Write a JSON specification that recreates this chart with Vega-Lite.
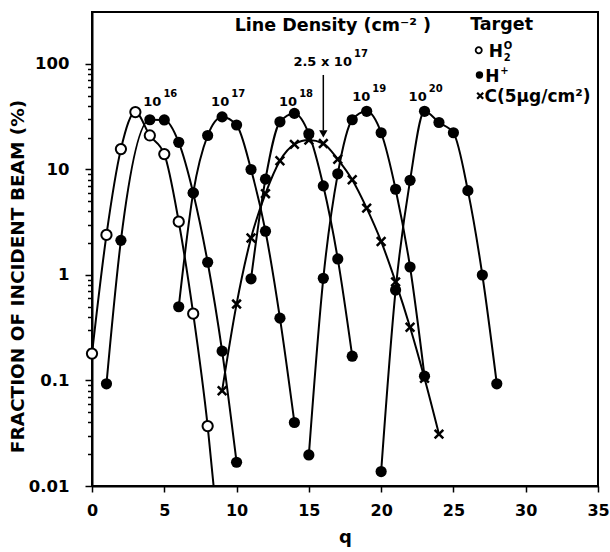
{
  "$schema": "https://vega.github.io/schema/vega-lite/v6.json",
  "width": 506,
  "height": 474,
  "autosize": {"type": "none"},
  "padding": {"left": 92, "top": 12, "right": 12, "bottom": 66},
  "background": "white",
  "config": {
    "view": {"stroke": "black", "strokeWidth": 2},
    "font": "DejaVu Sans",
    "axis": {
      "domainColor": "black", "domainWidth": 2, "tickColor": "black", "tickWidth": 1.5,
      "labelColor": "black", "titleColor": "black", "labelFont": "DejaVu Sans", "titleFont": "DejaVu Sans",
      "labelFontWeight": "bold", "titleFontWeight": "bold", "labelFontSize": 16.5, "titleFontSize": 17.5, "grid": false
    },
    "text": {"font": "DejaVu Sans", "fontWeight": "bold", "color": "black"}
  },
  "datasets": {
    "curves": [
      {"series": "H2", "target": "H2", "q": 0, "value": 0.18},
      {"series": "H2", "target": "H2", "q": 1, "value": 2.4},
      {"series": "H2", "target": "H2", "q": 2, "value": 15.6},
      {"series": "H2", "target": "H2", "q": 3, "value": 35},
      {"series": "H2", "target": "H2", "q": 4, "value": 21},
      {"series": "H2", "target": "H2", "q": 5, "value": 14},
      {"series": "H2", "target": "H2", "q": 6, "value": 3.2},
      {"series": "H2", "target": "H2", "q": 7, "value": 0.43},
      {"series": "H2", "target": "H2", "q": 8, "value": 0.037},
      {"series": "H2", "target": "H2", "q": 8.6, "value": 0.0055, "measured": false},
      {"series": "1e16", "target": "H+", "q": 1, "value": 0.093},
      {"series": "1e16", "target": "H+", "q": 2, "value": 2.13},
      {"series": "1e16", "target": "H+", "q": 4, "value": 29.6},
      {"series": "1e16", "target": "H+", "q": 5, "value": 29.5},
      {"series": "1e16", "target": "H+", "q": 6, "value": 18.1},
      {"series": "1e16", "target": "H+", "q": 7, "value": 6.0},
      {"series": "1e16", "target": "H+", "q": 8, "value": 1.32},
      {"series": "1e16", "target": "H+", "q": 9, "value": 0.19},
      {"series": "1e16", "target": "H+", "q": 10, "value": 0.0168},
      {"series": "1e17", "target": "H+", "q": 6, "value": 0.5},
      {"series": "1e17", "target": "H+", "q": 7, "value": 6.0},
      {"series": "1e17", "target": "H+", "q": 8, "value": 21},
      {"series": "1e17", "target": "H+", "q": 9, "value": 31.5},
      {"series": "1e17", "target": "H+", "q": 10, "value": 26.4},
      {"series": "1e17", "target": "H+", "q": 11, "value": 10},
      {"series": "1e17", "target": "H+", "q": 12, "value": 2.6},
      {"series": "1e17", "target": "H+", "q": 13, "value": 0.39},
      {"series": "1e17", "target": "H+", "q": 14, "value": 0.04},
      {"series": "1e18", "target": "H+", "q": 11, "value": 0.92},
      {"series": "1e18", "target": "H+", "q": 12, "value": 8.1},
      {"series": "1e18", "target": "H+", "q": 13, "value": 28.3},
      {"series": "1e18", "target": "H+", "q": 14, "value": 34},
      {"series": "1e18", "target": "H+", "q": 15, "value": 21.8},
      {"series": "1e18", "target": "H+", "q": 16, "value": 7.0},
      {"series": "1e18", "target": "H+", "q": 17, "value": 1.42},
      {"series": "1e18", "target": "H+", "q": 18, "value": 0.17},
      {"series": "1e19", "target": "H+", "q": 15, "value": 0.0197},
      {"series": "1e19", "target": "H+", "q": 16, "value": 0.93},
      {"series": "1e19", "target": "H+", "q": 17, "value": 9.1},
      {"series": "1e19", "target": "H+", "q": 18, "value": 29.6},
      {"series": "1e19", "target": "H+", "q": 19, "value": 35.6},
      {"series": "1e19", "target": "H+", "q": 20, "value": 22.3},
      {"series": "1e19", "target": "H+", "q": 21, "value": 6.5},
      {"series": "1e19", "target": "H+", "q": 22, "value": 1.19},
      {"series": "1e19", "target": "H+", "q": 23, "value": 0.11},
      {"series": "1e20", "target": "H+", "q": 20, "value": 0.0137},
      {"series": "1e20", "target": "H+", "q": 21, "value": 0.72},
      {"series": "1e20", "target": "H+", "q": 22, "value": 7.9},
      {"series": "1e20", "target": "H+", "q": 23, "value": 35.6},
      {"series": "1e20", "target": "H+", "q": 24, "value": 27.9},
      {"series": "1e20", "target": "H+", "q": 25, "value": 22.3},
      {"series": "1e20", "target": "H+", "q": 26, "value": 6.3},
      {"series": "1e20", "target": "H+", "q": 27, "value": 1.0},
      {"series": "1e20", "target": "H+", "q": 28, "value": 0.093},
      {"series": "C", "target": "C", "q": 9, "value": 0.08},
      {"series": "C", "target": "C", "q": 10, "value": 0.53},
      {"series": "C", "target": "C", "q": 11, "value": 2.24},
      {"series": "C", "target": "C", "q": 12, "value": 5.9},
      {"series": "C", "target": "C", "q": 13, "value": 12.1},
      {"series": "C", "target": "C", "q": 14, "value": 17.3},
      {"series": "C", "target": "C", "q": 15, "value": 19},
      {"series": "C", "target": "C", "q": 16, "value": 17.6},
      {"series": "C", "target": "C", "q": 17, "value": 12.5},
      {"series": "C", "target": "C", "q": 18, "value": 8.0},
      {"series": "C", "target": "C", "q": 19, "value": 4.3},
      {"series": "C", "target": "C", "q": 20, "value": 2.08},
      {"series": "C", "target": "C", "q": 21, "value": 0.86},
      {"series": "C", "target": "C", "q": 22, "value": 0.32},
      {"series": "C", "target": "C", "q": 23, "value": 0.105},
      {"series": "C", "target": "C", "q": 24, "value": 0.031}
    ],
    "labels": [
      {"q": 4.8, "value": 44, "text": "10", "sup": "16"},
      {"q": 9.49, "value": 44, "text": "10", "sup": "17"},
      {"q": 14.19, "value": 44, "text": "10", "sup": "18"},
      {"q": 19.25, "value": 49, "text": "10", "sup": "19"},
      {"q": 23.15, "value": 49, "text": "10", "sup": "20"},
      {"q": 17.98, "value": 105, "text": "2.5 x 10", "sup": "17"}
    ],
    "notes": [
      {"q": 16.66, "value": 230, "text": "Line Density (cm⁻² )"},
      {"q": 28.33, "value": 234, "text": "Target"}
    ],
    "arrow": [
      {"q": 16, "value": 78.7, "value2": 23.5}
    ],
    "arrowhead": [
      {"q": 16, "value": 21.7}
    ],
    "legendSymbols": [
      {"target": "H2", "q": 26.75, "value": 135},
      {"target": "H+", "q": 26.8, "value": 78.7},
      {"target": "C", "q": 26.85, "value": 50}
    ],
    "legendText": [
      {"q": 27.45, "value": 131, "text": "H", "sup": "O", "sub": "2"},
      {"q": 27.2, "value": 76, "text": "H", "sup": "+", "sub": ""},
      {"q": 27.15, "value": 49, "text": "C(5μg/cm²)", "sup": "", "sub": ""}
    ]
  },
  "layer": [
    {
      "data": {"name": "curves"},
      "mark": {"type": "line", "interpolate": "monotone", "color": "black", "strokeWidth": 2, "clip": true},
      "encoding": {
        "x": {
          "field": "q", "type": "quantitative",
          "scale": {"domain": [0, 35], "nice": false, "zero": false},
          "axis": {
            "values": [0, 2.5, 5, 7.5, 10, 12.5, 15, 17.5, 20, 22.5, 25, 27.5, 30, 32.5, 35],
            "labelExpr": "datum.value % 5 === 0 ? datum.label : ''",
            "tickSize": 6, "labelPadding": 10, "labelOverlap": false, "labelFlush": false, "labelFontSize": 16,
            "title": "q", "titlePadding": 10, "titleFontSize": 18
          }
        },
        "y": {
          "field": "value", "type": "quantitative",
          "scale": {"type": "log", "domain": [0.01, 311], "nice": false},
          "axis": {
            "values": [0.01, 0.02, 0.03, 0.04, 0.05, 0.06, 0.07, 0.08, 0.09, 0.1, 0.2, 0.3, 0.4, 0.5, 0.6, 0.7, 0.8, 0.9, 1, 2, 3, 4, 5, 6, 7, 8, 9, 10, 20, 30, 40, 50, 60, 70, 80, 90, 100],
            "labelExpr": "indexof([0.01, 0.1, 1, 10, 100], datum.value) >= 0 ? format(datum.value, '~g') : ''",
            "tickSize": {"condition": {"test": "indexof([0.01, 0.1, 1, 10, 100], datum.value) >= 0", "value": 7}, "value": 4.5},
            "labelPadding": 16, "labelOverlap": false, "labelFlush": false,
            "title": "FRACTION OF INCIDENT BEAM  (%)", "titlePadding": 1, "titleFontSize": 18.5, "titleY": 264
          }
        },
        "detail": {"field": "series"}
      }
    },
    {
      "data": {"name": "curves"},
      "transform": [{"filter": "datum.target === 'C'"}],
      "mark": {"type": "point", "shape": "M-1,-1L1,1M1,-1L-1,1", "filled": false, "stroke": "black", "strokeWidth": 2.5, "size": 75, "opacity": 1},
      "encoding": {
        "x": {"field": "q", "type": "quantitative"},
        "y": {"field": "value", "type": "quantitative"}
      }
    },
    {
      "data": {"name": "curves"},
      "transform": [{"filter": "datum.target === 'H+'"}],
      "mark": {"type": "point", "shape": "circle", "filled": true, "color": "black", "size": 125, "opacity": 1},
      "encoding": {
        "x": {"field": "q", "type": "quantitative"},
        "y": {"field": "value", "type": "quantitative"}
      }
    },
    {
      "data": {"name": "curves"},
      "transform": [{"filter": "datum.target === 'H2' && datum.measured !== false"}],
      "mark": {"type": "point", "shape": "circle", "filled": true, "fill": "white", "stroke": "black", "strokeWidth": 2, "size": 105, "opacity": 1},
      "encoding": {
        "x": {"field": "q", "type": "quantitative"},
        "y": {"field": "value", "type": "quantitative"}
      }
    },
    {
      "data": {"name": "labels"},
      "mark": {"type": "text", "align": "right", "baseline": "middle", "fontSize": 13},
      "encoding": {
        "x": {"field": "q", "type": "quantitative"},
        "y": {"field": "value", "type": "quantitative"},
        "text": {"field": "text"}
      }
    },
    {
      "data": {"name": "labels"},
      "mark": {"type": "text", "align": "left", "baseline": "middle", "fontSize": 10, "dx": 2, "dy": -8},
      "encoding": {
        "x": {"field": "q", "type": "quantitative"},
        "y": {"field": "value", "type": "quantitative"},
        "text": {"field": "sup"}
      }
    },
    {
      "data": {"name": "notes"},
      "mark": {"type": "text", "align": "center", "baseline": "middle", "fontSize": 17.5},
      "encoding": {
        "x": {"field": "q", "type": "quantitative"},
        "y": {"field": "value", "type": "quantitative"},
        "text": {"field": "text"}
      }
    },
    {
      "data": {"name": "arrow"},
      "mark": {"type": "rule", "color": "black", "strokeWidth": 1.5},
      "encoding": {
        "x": {"field": "q", "type": "quantitative"},
        "y": {"field": "value", "type": "quantitative"},
        "y2": {"field": "value2"}
      }
    },
    {
      "data": {"name": "arrowhead"},
      "mark": {"type": "point", "shape": "triangle-down", "filled": true, "color": "black", "size": 70, "opacity": 1},
      "encoding": {
        "x": {"field": "q", "type": "quantitative"},
        "y": {"field": "value", "type": "quantitative"}
      }
    },
    {
      "data": {"name": "legendSymbols"},
      "transform": [{"filter": "datum.target === 'H2'"}],
      "mark": {"type": "point", "shape": "circle", "filled": true, "fill": "white", "stroke": "black", "strokeWidth": 1.8, "size": 38, "opacity": 1},
      "encoding": {
        "x": {"field": "q", "type": "quantitative"},
        "y": {"field": "value", "type": "quantitative"}
      }
    },
    {
      "data": {"name": "legendSymbols"},
      "transform": [{"filter": "datum.target === 'H+'"}],
      "mark": {"type": "point", "shape": "circle", "filled": true, "color": "black", "size": 55, "opacity": 1},
      "encoding": {
        "x": {"field": "q", "type": "quantitative"},
        "y": {"field": "value", "type": "quantitative"}
      }
    },
    {
      "data": {"name": "legendSymbols"},
      "transform": [{"filter": "datum.target === 'C'"}],
      "mark": {"type": "point", "shape": "M-1,-1L1,1M1,-1L-1,1", "filled": false, "stroke": "black", "strokeWidth": 2.2, "size": 36, "opacity": 1},
      "encoding": {
        "x": {"field": "q", "type": "quantitative"},
        "y": {"field": "value", "type": "quantitative"}
      }
    },
    {
      "data": {"name": "legendText"},
      "mark": {"type": "text", "align": "left", "baseline": "middle", "fontSize": 17},
      "encoding": {
        "x": {"field": "q", "type": "quantitative"},
        "y": {"field": "value", "type": "quantitative"},
        "text": {"field": "text"}
      }
    },
    {
      "data": {"name": "legendText"},
      "mark": {"type": "text", "align": "left", "baseline": "middle", "fontSize": 10, "dx": 15, "dy": -6},
      "encoding": {
        "x": {"field": "q", "type": "quantitative"},
        "y": {"field": "value", "type": "quantitative"},
        "text": {"field": "sup"}
      }
    },
    {
      "data": {"name": "legendText"},
      "mark": {"type": "text", "align": "left", "baseline": "middle", "fontSize": 10, "dx": 15, "dy": 6},
      "encoding": {
        "x": {"field": "q", "type": "quantitative"},
        "y": {"field": "value", "type": "quantitative"},
        "text": {"field": "sub"}
      }
    }
  ]
}
